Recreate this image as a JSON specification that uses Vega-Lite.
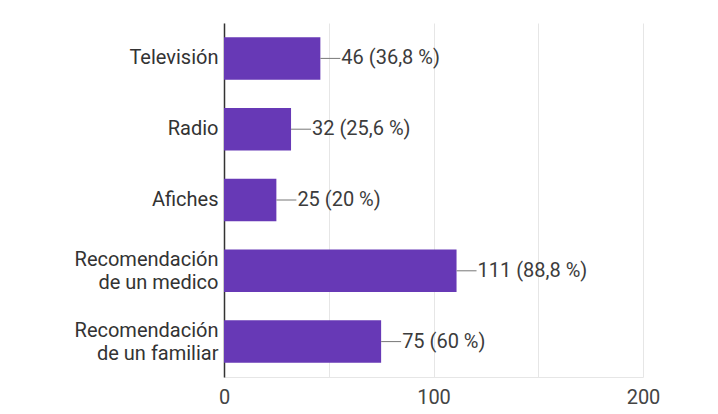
{
  "$schema": "https://vega.github.io/schema/vega-lite/v6.json",
  "autosize": {"type": "none"},
  "padding": {"left": 224, "top": 23, "right": 75, "bottom": 37},
  "width": 419,
  "height": 354,
  "background": "white",
  "config": {
    "view": {"stroke": null},
    "font": "Roboto"
  },
  "data": {
    "values": [
      {"source": "Televisión", "count": 46, "label": "46 (36,8 %)"},
      {"source": "Radio", "count": 32, "label": "32 (25,6 %)"},
      {"source": "Afiches", "count": 25, "label": "25 (20 %)"},
      {"source": "Recomendación de un medico", "count": 111, "label": "111 (88,8 %)"},
      {"source": "Recomendación de un familiar", "count": 75, "label": "75 (60 %)"}
    ]
  },
  "encoding": {
    "y": {
      "field": "source",
      "type": "nominal",
      "sort": null,
      "title": null,
      "scale": {"paddingInner": 0.4, "paddingOuter": 0.2},
      "axis": {
        "ticks": false,
        "grid": false,
        "domainColor": "#333333",
        "domainWidth": 1.5,
        "labelFontSize": 20,
        "labelColor": "#333333",
        "labelPadding": 6,
        "labelLineHeight": 23,
        "labelLimit": 220,
        "labelOffset": {"condition": {"test": "indexof(datum.value, ' de ') > 0", "value": -11}, "value": 0},
        "labelExpr": "split(replace(datum.value, 'ón de ', 'ón|de '), '|')"
      }
    }
  },
  "layer": [
    {
      "mark": {"type": "bar", "color": "#6739b6"},
      "encoding": {
        "x": {
          "field": "count",
          "type": "quantitative",
          "title": null,
          "scale": {"domain": [0, 200], "nice": false},
          "axis": {
            "values": [0, 50, 100, 150, 200],
            "ticks": false,
            "gridColor": "#e6e6e6",
            "domainColor": "#e6e6e6",
            "labelFontSize": 20,
            "labelColor": "#444444",
            "labelPadding": 10,
            "labelFlush": false,
            "labelExpr": "datum.value % 100 === 0 ? datum.label : ''"
          }
        }
      }
    },
    {
      "mark": {"type": "rule", "color": "#777777", "strokeWidth": 1, "x2Offset": 20},
      "encoding": {
        "x": {"field": "count", "type": "quantitative"},
        "x2": {"field": "count"}
      }
    },
    {
      "mark": {"type": "text", "align": "left", "baseline": "middle", "dx": 21, "fontSize": 20, "color": "#3c3c3c"},
      "encoding": {
        "x": {"field": "count", "type": "quantitative"},
        "text": {"field": "label"}
      }
    }
  ]
}
